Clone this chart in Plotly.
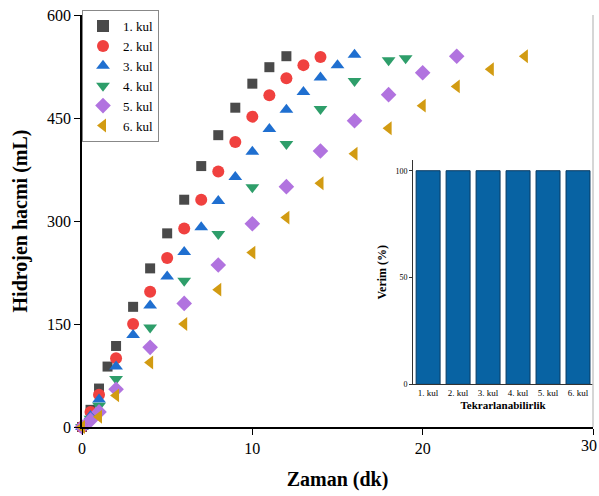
import plotly.graph_objects as go

# Hydrogen volume (mL) vs time (min) for six consecutive catalyst uses
x1 = [0, 0.5, 1, 1.5, 2, 3, 4, 5, 6, 7, 8, 9, 10, 11, 12]
y1 = [0, 25, 56, 88, 118, 175, 231, 282, 331, 380, 425, 465, 500, 524, 540]

x2 = [0, 0.5, 1, 2, 3, 4, 5, 6, 7, 8, 9, 10, 11, 12, 13, 14]
y2 = [0, 22, 47, 100, 150, 197, 246, 289, 331, 372, 415, 452, 483, 508, 527, 539]

x3 = [0, 0.5, 1, 2, 3, 4, 5, 6, 7, 8, 9, 10, 11, 12, 13, 14, 15, 16]
y3 = [0, 16, 40, 88, 134, 177, 219, 255, 291, 329, 364, 401, 434, 462, 488, 509, 527, 542]

x4 = [0, 0.5, 1, 2, 4, 6, 8, 10, 12, 14, 16, 18, 19]
y4 = [0, 12, 31, 70, 145, 213, 281, 349, 412, 463, 504, 534, 537]

x5 = [0, 0.5, 1, 2, 4, 6, 8, 10, 12, 14, 16, 18, 20, 22]
y5 = [0, 10, 22, 55, 116, 180, 236, 296, 350, 402, 446, 484, 516, 540]

x6 = [0, 1, 2, 4, 6, 8, 10, 12, 14, 16, 18, 20, 22, 24, 26]
y6 = [0, 15, 46, 94, 150, 200, 254, 305, 355, 398, 435, 468, 496, 521, 540]

series_names = ["1. kul", "2. kul", "3. kul", "4. kul", "5. kul", "6. kul"]
series_x = [x1, x2, x3, x4, x5, x6]
series_y = [y1, y2, y3, y4, y5, y6]

# Inset: yield per reuse cycle
yield_pct = [100, 100, 100, 100, 100, 100]

x_ticks = [0, 10, 20, 30]
x_ticktext = ["0", "10", "20", ""]   # last label is placed flush with the page edge below
y_ticks = [0, 150, 300, 450, 600]
inset_ticks = [0, 50, 100]

colors = ["#4a4a4a", "#f0413f", "#1f6fd0", "#2e9e6a", "#b173df", "#d29b12"]
symbols = ["square", "circle", "triangle-up", "triangle-down", "diamond", "triangle-left"]
sizes = [10, 12, 12, 12, 12, 12]

SERIF = "Liberation Serif, Times New Roman, serif"

fig = go.Figure()

for name, xs, ys, c, s, sz in zip(series_names, series_x, series_y, colors, symbols, sizes):
    fig.add_trace(go.Scatter(
        x=xs, y=ys, mode="markers", name=name,
        marker=dict(color=c, symbol=s, size=sz, line=dict(width=0)),
        cliponaxis=False,
        xaxis="x", yaxis="y",
    ))

fig.add_trace(go.Bar(
    x=series_names, y=yield_pct, showlegend=False,
    marker=dict(color="#0863a3", line=dict(color="#0b3b62", width=1)),
    xaxis="x2", yaxis="y2",
))

fig.update_layout(
    width=599, height=496,
    margin=dict(l=82, r=6, t=15, b=69, autoexpand=False),
    paper_bgcolor="white", plot_bgcolor="white",
    font=dict(family=SERIF, color="black"),
    bargap=0.2,
    xaxis=dict(
        domain=[0, 1], range=[0, 30], tickvals=x_ticks, ticktext=x_ticktext,
        showline=True, linecolor="black", linewidth=1.5,
        ticks="outside", ticklen=6, tickwidth=1.2, tickcolor="black",
        showgrid=False, zeroline=False, automargin=False,
        tickfont=dict(size=16, family=SERIF),
        title=dict(text="<b>Zaman (dk)</b>", font=dict(size=20, family=SERIF), standoff=16),
    ),
    yaxis=dict(
        domain=[0, 1], range=[0, 600], tickvals=y_ticks,
        showline=True, linecolor="black", linewidth=1.5,
        ticks="outside", ticklen=6, tickwidth=1.2, tickcolor="black",
        showgrid=False, zeroline=False, automargin=False,
        tickfont=dict(size=16, family=SERIF),
        title=dict(text="<b>Hidrojen hacmi (mL)</b>", font=dict(size=20, family=SERIF), standoff=14),
    ),
    xaxis2=dict(
        domain=[0.648, 1.0], anchor="y2",
        showline=True, linecolor="#333333", linewidth=1,
        ticks="", showgrid=False, zeroline=False, automargin=False,
        tickfont=dict(size=9, family=SERIF),
        title=dict(text="<b>Tekrarlanabilirlik</b>", font=dict(size=11, family=SERIF), standoff=4),
    ),
    yaxis2=dict(
        domain=[0.1036, 0.648], anchor="x2", range=[0, 105], tickvals=inset_ticks,
        showline=True, linecolor="#333333", linewidth=1,
        ticks="outside", ticklen=3, tickwidth=1, tickcolor="#333333",
        showgrid=False, zeroline=False, automargin=False,
        tickfont=dict(size=8, family=SERIF),
        title=dict(text="<b>Verim (%)</b>", font=dict(size=12, family=SERIF), standoff=6),
    ),
    legend=dict(
        x=0, y=1.012, xanchor="left", yanchor="top",
        bordercolor="#888888", borderwidth=1, bgcolor="white",
        font=dict(size=13, family=SERIF),
        itemsizing="constant", tracegroupgap=0,
        itemwidth=30,
    ),
    shapes=[
        dict(type="line", xref="paper", yref="paper", x0=1, x1=1, y0=0, y1=1,
             line=dict(color="#c8c8c8", width=1.5)),
    ],
    annotations=[
        dict(text=str(x_ticks[-1]), xref="paper", yref="paper", x=1, y=0,
             xanchor="right", yanchor="top", xshift=6, yshift=-8, showarrow=False,
             font=dict(size=16, family=SERIF, color="black")),
    ],
)

fig.write_html("out.html")
